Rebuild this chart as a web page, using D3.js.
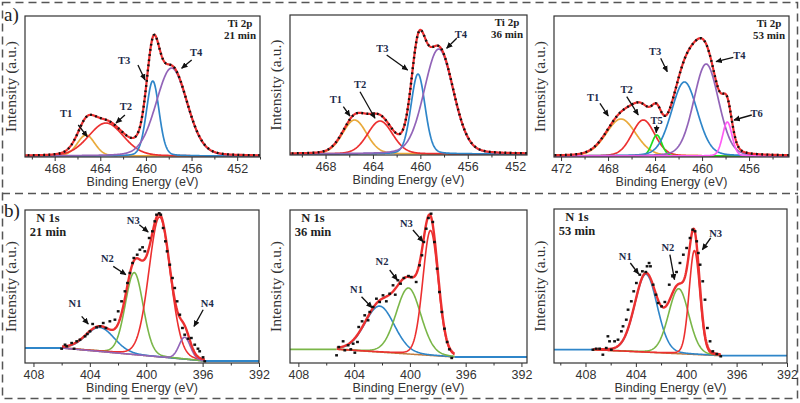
<!DOCTYPE html>
<html>
<head>
<meta charset="utf-8">
<script src="https://cdnjs.cloudflare.com/ajax/libs/d3/7.8.5/d3.min.js"></script>
<style>
  body { margin: 0; background: #fff; }
  svg { display: block; font-family: "Liberation Sans", Arial, sans-serif; }
</style>
</head>
<body>
<svg id="fig" width="800" height="403"></svg>
<script>
// ---- data ----
// fitted components: [centre (eV), height (a.u.), FWHM (eV)]
const ti21Peaks = [[465.25, 21, 1.8], [463.5, 33, 3.6], [459.4, 75, 1.3], [457.75, 88, 3.2]];
const ti36Peaks = [[465.55, 34, 2.4], [463.4, 33, 2.5], [460.2, 80, 1.4], [458.45, 105, 2.9]];
const ti53Peaks = [[466.9, 37, 3.0], [465.0, 36, 2.3], [463.85, 21, 1.0], [461.5, 74, 2.6], [459.65, 92, 2.5], [457.85, 34, 0.95]];

const n21Peaks = [[403.28, 24, 2.4], [400.85, 82, 1.5], [399.05, 140, 1.8], [397.27, 22, 0.95]];
const n36Peaks = [[402.17, 46, 2.5], [400.1, 66, 2.1], [398.52, 125, 1.3]];
const n53Peaks = [[403.2, 78, 2.1], [400.6, 65, 1.9], [399.35, 104, 1.0]];

// background of the N 1s fits: [low eV, high eV, level at low eV, level at high eV]
const n21Background = [395.85, 406.0, 2, 15];
const n36Background = [396.8, 405.26, 6, 13.7];
const n53Background = [397.26, 407.4, 7.3, 13.3];

// measured N 1s points [eV, a.u.]
const n21Dots = [[406.0,14.3],[405.76,18.3],[405.64,16.7],[405.29,20],[405.12,14.3],[404.93,21.7],[404.7,23.3],[404.34,26.7],
  [404.18,29],[403.99,31.7],[403.8,39],[403.52,35.7],[403.28,36.7],[403.05,40],[402.86,35],[402.58,41.7],[402.22,43.3],
  [401.99,51.7],[401.75,61.7],[401.51,71.7],[401.33,80],[401.16,90],[400.97,100],[400.88,105],[400.64,108.3],[400.45,113.3],
  [400.26,115.7],[400.1,111.7],[399.79,125],[399.56,131.7],[399.39,141.7],[399.27,148.3],[399.08,149.7],[398.97,148.3],
  [398.8,135],[398.64,121.7],[398.52,111.7],[398.33,98.3],[398.14,85],[397.98,75],[397.81,61.7],[397.62,48.3],[397.43,35],
  [397.27,28.3],[397.03,24.3],[396.8,25],[396.56,18.3],[396.33,14.3],[396.21,11.7],[395.97,5.7],[395.85,1.7]];
const n36Dots = [[405.26,7.7],[405.1,16],[404.79,21.7],[404.67,12.7],[404.43,17.7],[404.24,13.7],[404.07,19.3],[403.95,10.3],
  [403.76,21],[403.67,36],[403.43,41.7],[403.24,47.7],[403.0,42.7],[402.88,51],[402.64,56],[402.4,64.3],[402.17,61],
  [401.93,67.7],[401.69,61.7],[401.45,69.3],[401.21,77.7],[401.05,68.3],[400.86,82.7],[400.67,79.3],[400.43,85],[400.1,87],
  [399.9,86],[399.55,81],[399.31,97.7],[399.14,107.7],[399.0,121],[398.83,134.3],[398.67,145],[398.48,149.3],[398.36,141],
  [398.24,121],[398.05,94.3],[397.88,71],[397.71,51],[397.52,34.3],[397.33,21],[397.17,13.7],[397.0,5]];
const n53Dots = [[407.41,13.3],[407.15,14.3],[406.88,14.3],[406.62,8.3],[406.35,15],[406.22,26.7],[406.09,21.7],[405.95,13.3],
  [405.69,21.7],[405.42,23.3],[405.15,31.7],[405.02,36.7],[404.76,43.3],[404.62,53.3],[404.36,61.7],[404.17,71.7],[403.96,80],
  [403.69,88.3],[403.48,91.7],[403.21,91],[403.11,96.7],[402.95,100],[402.84,96.7],[402.63,78.3],[402.41,68.3],[402.23,60],
  [401.96,56.7],[401.7,61],[401.35,78.3],[401.09,86.7],[400.77,91],[400.5,100],[400.23,108.3],[399.97,115],[399.7,125],
  [399.49,133.3],[399.3,131.7],[399.17,121.7],[399.04,110],[398.9,98.3],[398.69,81.7],[398.51,63.3],[398.32,35],
  [398.11,21.7],[397.89,11.7],[397.57,9],[397.26,6.7]];

// peak labels: [name, text eV, text a.u., arrow start eV, a.u., arrow end eV, a.u.]
const ti21Labels = [["T1",467.0,43,465.93,31,465.14,19.3],["T2",461.75,50,461.84,41,462.62,33],
  ["T3",461.9,96,460.7,91,460.08,76],["T4",455.6,104,455.99,96,456.87,87.7]];
const ti36Labels = [["T1",467.12,54.7,466.5,47.3,465.94,38],["T2",465.09,70,465.09,62.3,463.83,35.7],
  ["T3",463.21,105.7,462.84,99,461.07,84],["T4",456.57,119.7,456.93,115.7,457.78,105.7]];
const ti53Labels = [["T1",469.26,58.7,468.69,52.7,467.98,40],["T2",466.41,66.7,466.41,59.3,465.43,41],
  ["T5",463.86,35.3,463.86,30.5,463.9,23.3],["T3",464.0,104.3,463.52,97.7,462.96,84.3],
  ["T4",456.83,101,457.34,98.7,458.81,94.3],["T6",455.35,42.7,455.77,41,457.28,36]];
const n21Labels = [["N1",405.05,60,404.58,46.6,404.11,39],["N2",402.76,104.3,402.34,96.6,401.44,88.3],
  ["N3",400.92,142.3,400.49,138.3,399.86,131],["N4",395.67,60,395.96,53.3,396.61,36.6]];
const n36Labels = [["N1",403.83,74,403.47,66.3,402.71,55.3],["N2",402.0,101.3,401.45,93,400.9,83],
  ["N3",400.25,139.7,399.78,133,399.06,121.3]];
const n53Labels = [["N1",404.84,106.6,404.44,100,403.78,89],["N2",401.46,115.6,401.3,108.3,400.93,83.3],
  ["N3",397.66,130,398.06,125,398.72,113.3]];

const tiTicks = [472, 468, 464, 460, 456, 452];
const tiMinor = [470, 466, 462, 458, 454, 450];
const nTicks = [408, 404, 400, 396, 392];
const nMinor = [410, 406, 402, 398, 394];

// ---- styles ----
const RED = "#ec3030", BLUE = "#2f86c9", ORANGE = "#e9aa3c", PURPLE = "#9264b8",
      LIME = "#1fdc1f", PINK = "#ff5cf5", GREEN = "#7ab648", BROWN = "#c07a3e";

const panels = [
  { kind: "ti", x0: 25, x1: 260, y0: 16, y1: 157, dom: [470.6, 450], yDom: [-1, 140], peaks: ti21Peaks,
    colors: [ORANGE, RED, BLUE, PURPLE], labels: ti21Labels, head: ["Ti 2p", "21 min"] },
  { kind: "ti", x0: 290, x1: 527, y0: 15, y1: 155, dom: [471, 451], yDom: [-1, 139], peaks: ti36Peaks,
    colors: [ORANGE, RED, BLUE, PURPLE], labels: ti36Labels, head: ["Ti 2p", "36 min"] },
  { kind: "ti", x0: 554, x1: 789, y0: 16, y1: 157, dom: [472.6, 452.6], yDom: [-1, 140], peaks: ti53Peaks,
    colors: [ORANGE, RED, LIME, BLUE, PURPLE, PINK], labels: ti53Labels, head: ["Ti 2p", "53 min"] },
  { kind: "n", x0: 25, x1: 259, y0: 210, y1: 363, dom: [408.6, 392], yDom: [0, 153], peaks: n21Peaks,
    colors: [BLUE, GREEN, RED, PURPLE], bg: n21Background, dots: n21Dots, ext: [BLUE, BLUE],
    labels: n21Labels, head: ["N 1s", "21 min"] },
  { kind: "n", x0: 290, x1: 527, y0: 210, y1: 363, dom: [408.6, 391.6], yDom: [0, 153], peaks: n36Peaks,
    colors: [BLUE, GREEN, RED], bg: n36Background, dots: n36Dots, ext: [GREEN, BLUE],
    labels: n36Labels, head: ["N 1s", "36 min"] },
  { kind: "n", x0: 554, x1: 787, y0: 209, y1: 363, dom: [410.5, 392], yDom: [0, 154], peaks: n53Peaks,
    colors: [BLUE, GREEN, RED], bg: n53Background, dots: n53Dots, ext: [BLUE, BLUE],
    labels: n53Labels, head: ["N 1s", "53 min"] }
];

// pseudo-Voigt line shape
function pv(e, pk, eta) {
  const d = (e - pk[0]) / pk[2];
  return pk[1] * ((1 - eta) * Math.exp(-4 * Math.LN2 * d * d) + eta / (1 + 4 * d * d));
}

const svg = d3.select("#fig");
const defs = svg.append("defs");
defs.append("marker").attr("id", "arr").attr("viewBox", "0 0 10 10")
  .attr("refX", 9).attr("refY", 5).attr("markerWidth", 5).attr("markerHeight", 5)
  .attr("orient", "auto")
  .append("path").attr("d", "M0,0.5L10,5L0,9.5z").attr("fill", "#111");

// dashed outer boxes
svg.append("rect").attr("x", 2.5).attr("y", 2.5).attr("width", 795).attr("height", 396)
  .attr("fill", "none").attr("stroke", "#555").attr("stroke-width", 1.5).attr("stroke-dasharray", "8,5");
svg.append("line").attr("x1", 2).attr("x2", 798).attr("y1", 193.5).attr("y2", 193.5)
  .attr("stroke", "#555").attr("stroke-width", 1.5).attr("stroke-dasharray", "8,5");

svg.append("text").attr("x", 4).attr("y", 21).attr("font-family", "Liberation Serif, serif")
  .attr("font-size", 19).attr("fill", "#222").text("a)");
svg.append("text").attr("x", 4).attr("y", 217).attr("font-family", "Liberation Serif, serif")
  .attr("font-size", 19).attr("fill", "#222").text("b)");

panels.forEach((p, k) => {
  const x = d3.scaleLinear().domain(p.dom).range([p.x0, p.x1]);
  const y = d3.scaleLinear().domain(p.yDom).range([p.y1, p.y0]);
  const [eMin, eMax] = d3.extent(p.dom);
  const g = svg.append("g");

  defs.append("clipPath").attr("id", "clip" + k).append("rect")
    .attr("x", p.x0).attr("y", p.y0).attr("width", p.x1 - p.x0).attr("height", p.y1 - p.y0);
  const plot = g.append("g").attr("clip-path", `url(#clip${k})`);
  const line = d3.line().x(d => x(d[0])).y(d => y(d[1]));
  const stroke = (sel, c, w) => sel.attr("fill", "none").attr("stroke", c).attr("stroke-width", w)
    .attr("stroke-linejoin", "round");

  if (p.kind === "ti") {
    const es = d3.range(eMin, eMax + 0.01, 0.04);
    p.peaks.forEach((pk, i) => {
      stroke(plot.append("path").datum(es.map(e => [e, pv(e, pk, 0.15)])).attr("d", line), p.colors[i], 1.7);
    });
    const env = es.map(e => [e, d3.sum(p.peaks, pk => pv(e, pk, 0.15))]);
    stroke(plot.append("path").datum(env).attr("d", line), RED, 2.2);
    stroke(plot.append("path").datum(env).attr("d", line), "#111", 2.4).attr("stroke-dasharray", "1.8,3.4");
  } else {
    const [bLo, bHi, lvLo, lvHi] = p.bg;
    const bg = d3.scaleLinear().domain([bLo, bHi]).range([lvLo, lvHi]);
    const es = d3.range(bLo, bHi + 0.001, 0.04);
    // flat continuation of the fit outside its window
    stroke(plot.append("path").datum([[bHi, lvHi], [eMax + 1, lvHi]]).attr("d", line), p.ext[0], 1.8);
    stroke(plot.append("path").datum([[eMin - 1, lvLo], [bLo, lvLo]]).attr("d", line), p.ext[1], 1.8);
    stroke(plot.append("path").datum(es.map(e => [e, bg(e)])).attr("d", line), BROWN, 1.5);
    p.peaks.forEach((pk, i) => {
      stroke(plot.append("path").datum(es.map(e => [e, bg(e) + pv(e, pk, 0.1)])).attr("d", line), p.colors[i], 1.6);
    });
    const env = es.map(e => [e, bg(e) + d3.sum(p.peaks, pk => pv(e, pk, 0.1))]);
    stroke(plot.append("path").datum(env).attr("d", line), RED, 2.4);
    plot.selectAll("rect.dot").data(p.dots).join("rect").attr("class", "dot")
      .attr("x", d => x(d[0]) - 1.4).attr("y", d => y(d[1]) - 1.2)
      .attr("width", 2.8).attr("height", 2.4).attr("fill", "#111");
  }

  // frame
  g.append("rect").attr("x", p.x0).attr("y", p.y0).attr("width", p.x1 - p.x0).attr("height", p.y1 - p.y0)
    .attr("fill", "none").attr("stroke", "#333").attr("stroke-width", 1.2);

  // axes
  const major = (p.kind === "ti" ? tiTicks : nTicks).filter(t => t >= eMin && t <= eMax);
  const minor = (p.kind === "ti" ? tiMinor : nMinor).filter(t => t >= eMin && t <= eMax);
  const ax = g.append("g").attr("transform", `translate(0,${p.y1})`)
    .call(d3.axisBottom(x).tickValues(major).tickSize(4).tickSizeOuter(0).tickPadding(3));
  ax.select(".domain").remove();
  ax.selectAll("line").attr("stroke", "#333");
  ax.selectAll("text").attr("font-size", 12.5).attr("fill", "#333").attr("font-family", "Liberation Sans, Arial, sans-serif");
  const axm = g.append("g").attr("transform", `translate(0,${p.y1})`)
    .call(d3.axisBottom(x).tickValues(minor).tickSize(2.5).tickFormat(""));
  axm.select(".domain").remove();
  axm.selectAll("line").attr("stroke", "#333");

  g.append("text").attr("x", (p.x0 + p.x1) / 2).attr("y", p.y1 + 29).attr("text-anchor", "middle")
    .attr("font-size", 12.5).attr("fill", "#333").text("Binding Energy (eV)");
  g.append("text").attr("transform", `translate(${p.x0 - 9},${(p.y0 + p.y1) / 2}) rotate(-90)`)
    .attr("text-anchor", "middle").attr("font-family", "Liberation Serif, serif")
    .attr("font-size", 15.5).attr("fill", "#333").text("Intensity (a.u.)");

  // header
  const hx = p.kind === "ti" ? p.x1 - 20 : p.x0 + 23;
  const hs = p.kind === "ti" ? 11 : 12.5;
  p.head.forEach((t, i) => {
    g.append("text").attr("x", hx).attr("y", p.y0 + (p.kind === "ti" ? 11 + i * 12 : 12 + i * 14))
      .attr("text-anchor", "middle").attr("font-family", "Liberation Serif, serif").attr("font-weight", "bold")
      .attr("font-size", hs).attr("fill", "#222").text(t);
  });

  // peak labels with arrows
  p.labels.forEach(l => {
    g.append("line").attr("x1", x(l[3])).attr("y1", y(l[4])).attr("x2", x(l[5])).attr("y2", y(l[6]))
      .attr("stroke", "#111").attr("stroke-width", 1.3).attr("marker-end", "url(#arr)");
    g.append("text").attr("x", x(l[1])).attr("y", y(l[2])).attr("dy", "0.35em").attr("text-anchor", "middle")
      .attr("font-family", "Liberation Serif, serif").attr("font-weight", "bold").attr("font-size", 10.5)
      .attr("fill", "#1c2b4a").text(l[0]);
  });
});
</script>
</body>
</html>
